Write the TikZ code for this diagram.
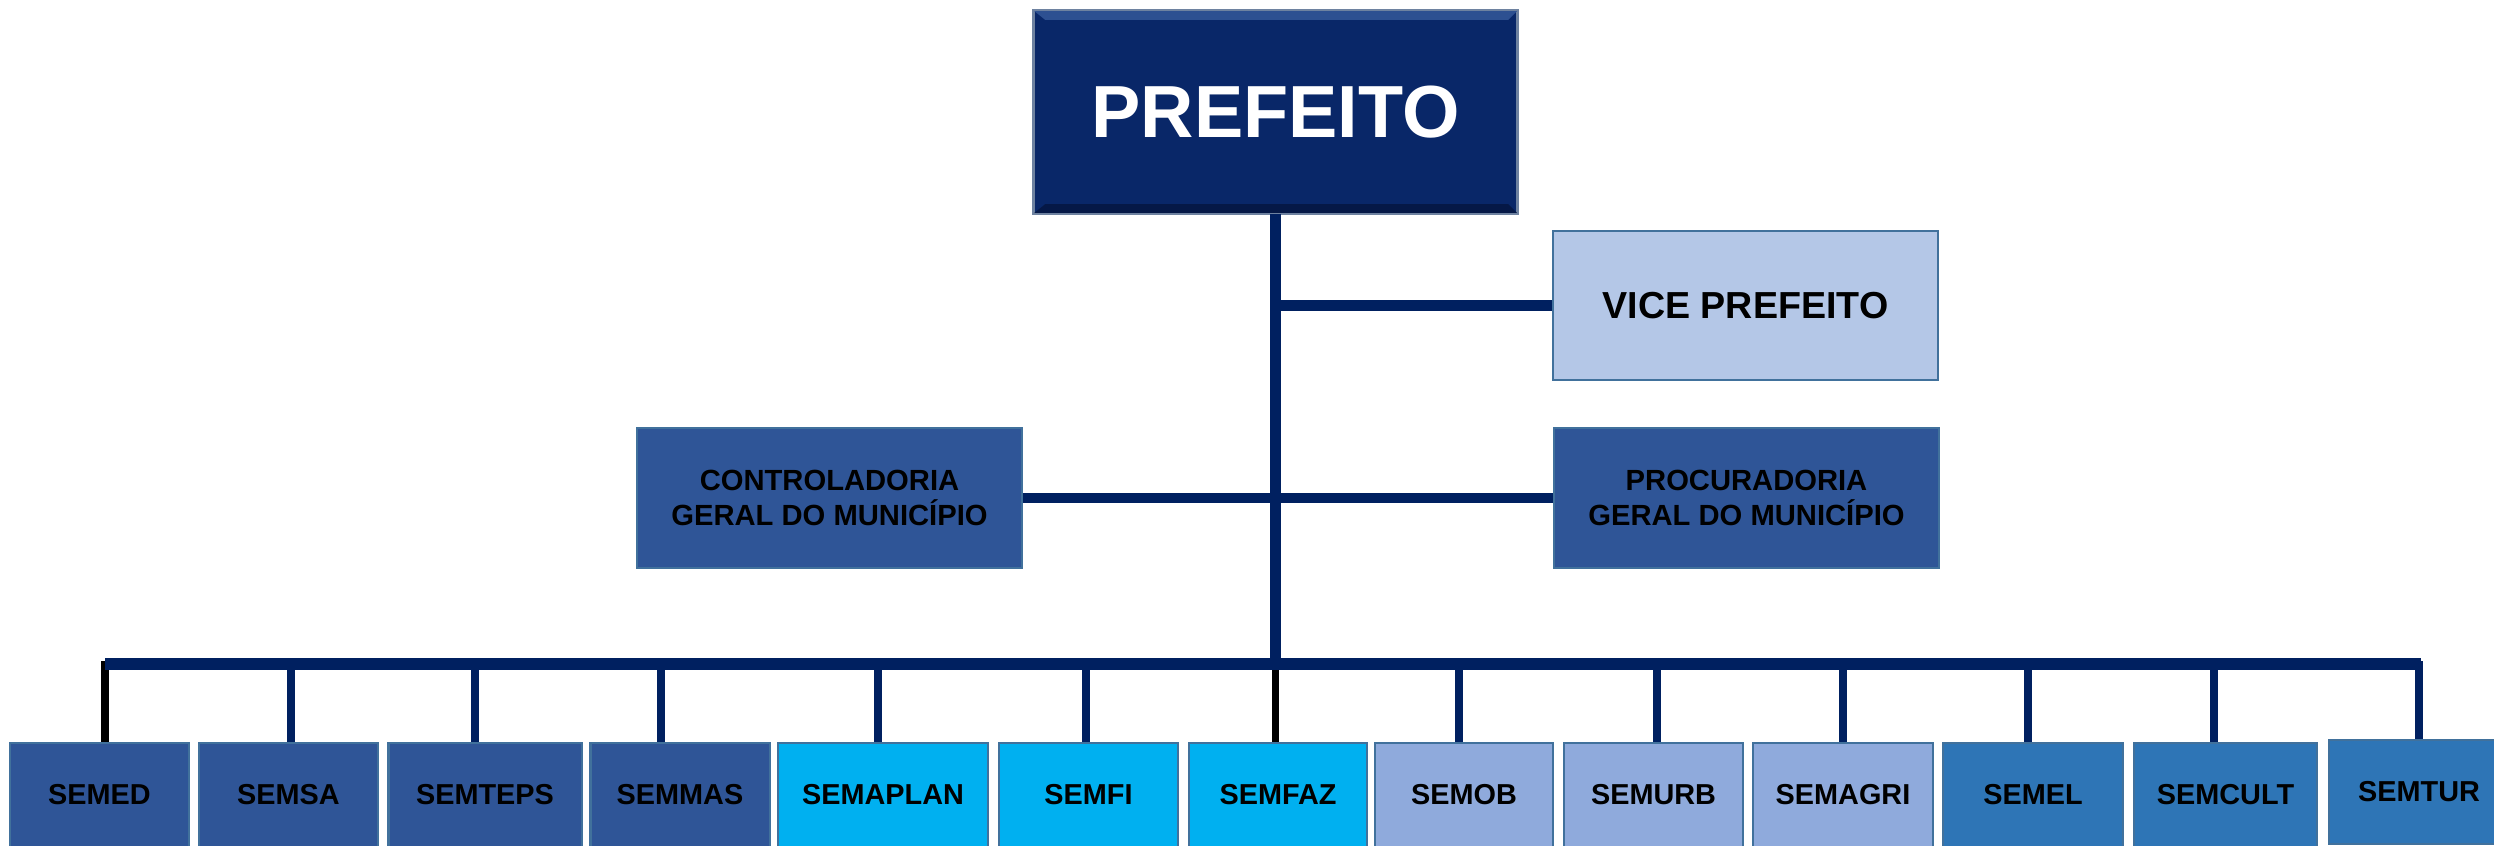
\documentclass[tikz,border=0pt]{standalone}
\usepackage{fontspec}
\setmainfont{Liberation Sans}
\usetikzlibrary{positioning}

\definecolor{topnavy}{RGB}{9,39,104}
\definecolor{topedge}{RGB}{110,130,160}
\definecolor{bevlight}{RGB}{45,80,145}
\definecolor{bevdark}{RGB}{5,24,70}
\definecolor{linenavy}{RGB}{0,32,96}
\definecolor{boxedge}{RGB}{65,113,156}
\definecolor{vicefill}{RGB}{180,199,231}
\definecolor{darkfill}{RGB}{47,85,151}
\definecolor{cyanfill}{RGB}{0,176,240}
\definecolor{lightfill}{RGB}{143,170,220}
\definecolor{midfill}{RGB}{46,117,182}

\begin{document}
\begin{tikzpicture}[x=0.01cm, y=-0.01cm,
    box/.style={draw=boxedge, line width=0.6pt, inner sep=0pt, align=center},
    sec/.style={box, minimum width=1.79cm, minimum height=1.04cm, font=\fontsize{8.2}{9.8}\selectfont\bfseries},
    line/.style={draw=linenavy, line width=3.1pt},
    drop/.style={line width=2.1pt}
]
    \useasboundingbox (0,0) rectangle (2494,845);

    % topo
    \node[box, fill=topnavy, draw=topedge, minimum width=4.83cm, minimum height=2.02cm,
          text=white, font=\fontsize{21}{25}\selectfont\bfseries] (prefeito) at (1275.5,112) {PREFEITO};
    \fill[bevlight] (prefeito.north west) -- (prefeito.north east) -- ++(-10,10) -- ++(-463,0) -- cycle;
    \fill[bevdark] (prefeito.south west) -- (prefeito.south east) -- ++(-10,-10) -- ++(-463,0) -- cycle;
    \draw[topedge, line width=0.6pt] (prefeito.north west) rectangle (prefeito.south east);

    \node[box, fill=vicefill, minimum width=3.85cm, minimum height=1.49cm,
          font=\fontsize{10.7}{13}\selectfont\bfseries] (vice) at (1745.5,305.5) {VICE PREFEITO};
    \node[box, fill=darkfill, minimum width=3.85cm, minimum height=1.40cm,
          font=\fontsize{8.3}{9.8}\selectfont\bfseries] (ctrl) at (829.5,498) {CONTROLADORIA\\GERAL DO MUNICÍPIO};
    \node[box, fill=darkfill, minimum width=3.85cm, minimum height=1.40cm,
          font=\fontsize{8.3}{9.8}\selectfont\bfseries] (proc) at (1746.5,498) {PROCURADORIA\\GERAL DO MUNICÍPIO};

    % secretarias
    \node[sec, fill=darkfill] (semed) at (99.5,795) {SEMED};
    \node[sec, fill=darkfill] (semsa) at (288.5,795) {SEMSA};
    \node[sec, fill=darkfill, minimum width=1.93cm] (semteps) at (485,795) {SEMTEPS};
    \node[sec, fill=darkfill] (semmas) at (680,795) {SEMMAS};
    \node[sec, fill=cyanfill, minimum width=2.10cm] (semaplan) at (883,795) {SEMAPLAN};
    \node[sec, fill=cyanfill] (semfi) at (1088.5,795) {SEMFI};
    \node[sec, fill=cyanfill, minimum width=1.78cm] (semfaz) at (1278,795) {SEMFAZ};
    \node[sec, fill=lightfill, minimum width=1.78cm] (semob) at (1464,795) {SEMOB};
    \node[sec, fill=lightfill] (semurb) at (1653.5,795) {SEMURB};
    \node[sec, fill=lightfill, minimum width=1.80cm] (semagri) at (1843,795) {SEMAGRI};
    \node[sec, fill=midfill, minimum width=1.80cm] (semel) at (2033,795) {SEMEL};
    \node[sec, fill=midfill, minimum width=1.83cm] (semcult) at (2225.5,795) {SEMCULT};
    \node[sec, fill=midfill, minimum width=1.80cm] (semtur) at (2419,792) {SEMTUR};

    % ligacoes
    \coordinate (busL) at (105,664);
    \coordinate (busR) at (2421,664);
    \foreach \n/\x/\c in {semed/105/black, semsa/291/linenavy, semteps/475/linenavy,
        semmas/661/linenavy, semaplan/878/linenavy, semfi/1086/linenavy, semfaz/1275.5/black,
        semob/1459/linenavy, semurb/1657/linenavy, semagri/1843/linenavy, semel/2028/linenavy,
        semcult/2214/linenavy, semtur/2419/linenavy}{
        \coordinate (d-\n) at (\x,661);
        \draw[drop, draw=\c] (d-\n) -- (d-\n |- \n.north);
    }
    \draw[line] (prefeito.south) -- (prefeito.south |- busL);
    \draw[line] (vice.west) -- (vice.west -| prefeito.south);
    \draw[line] (ctrl.east) -- (proc.west);
    \draw[line, line width=3.4pt] (busL) -- (busR);
\end{tikzpicture}
\end{document}
